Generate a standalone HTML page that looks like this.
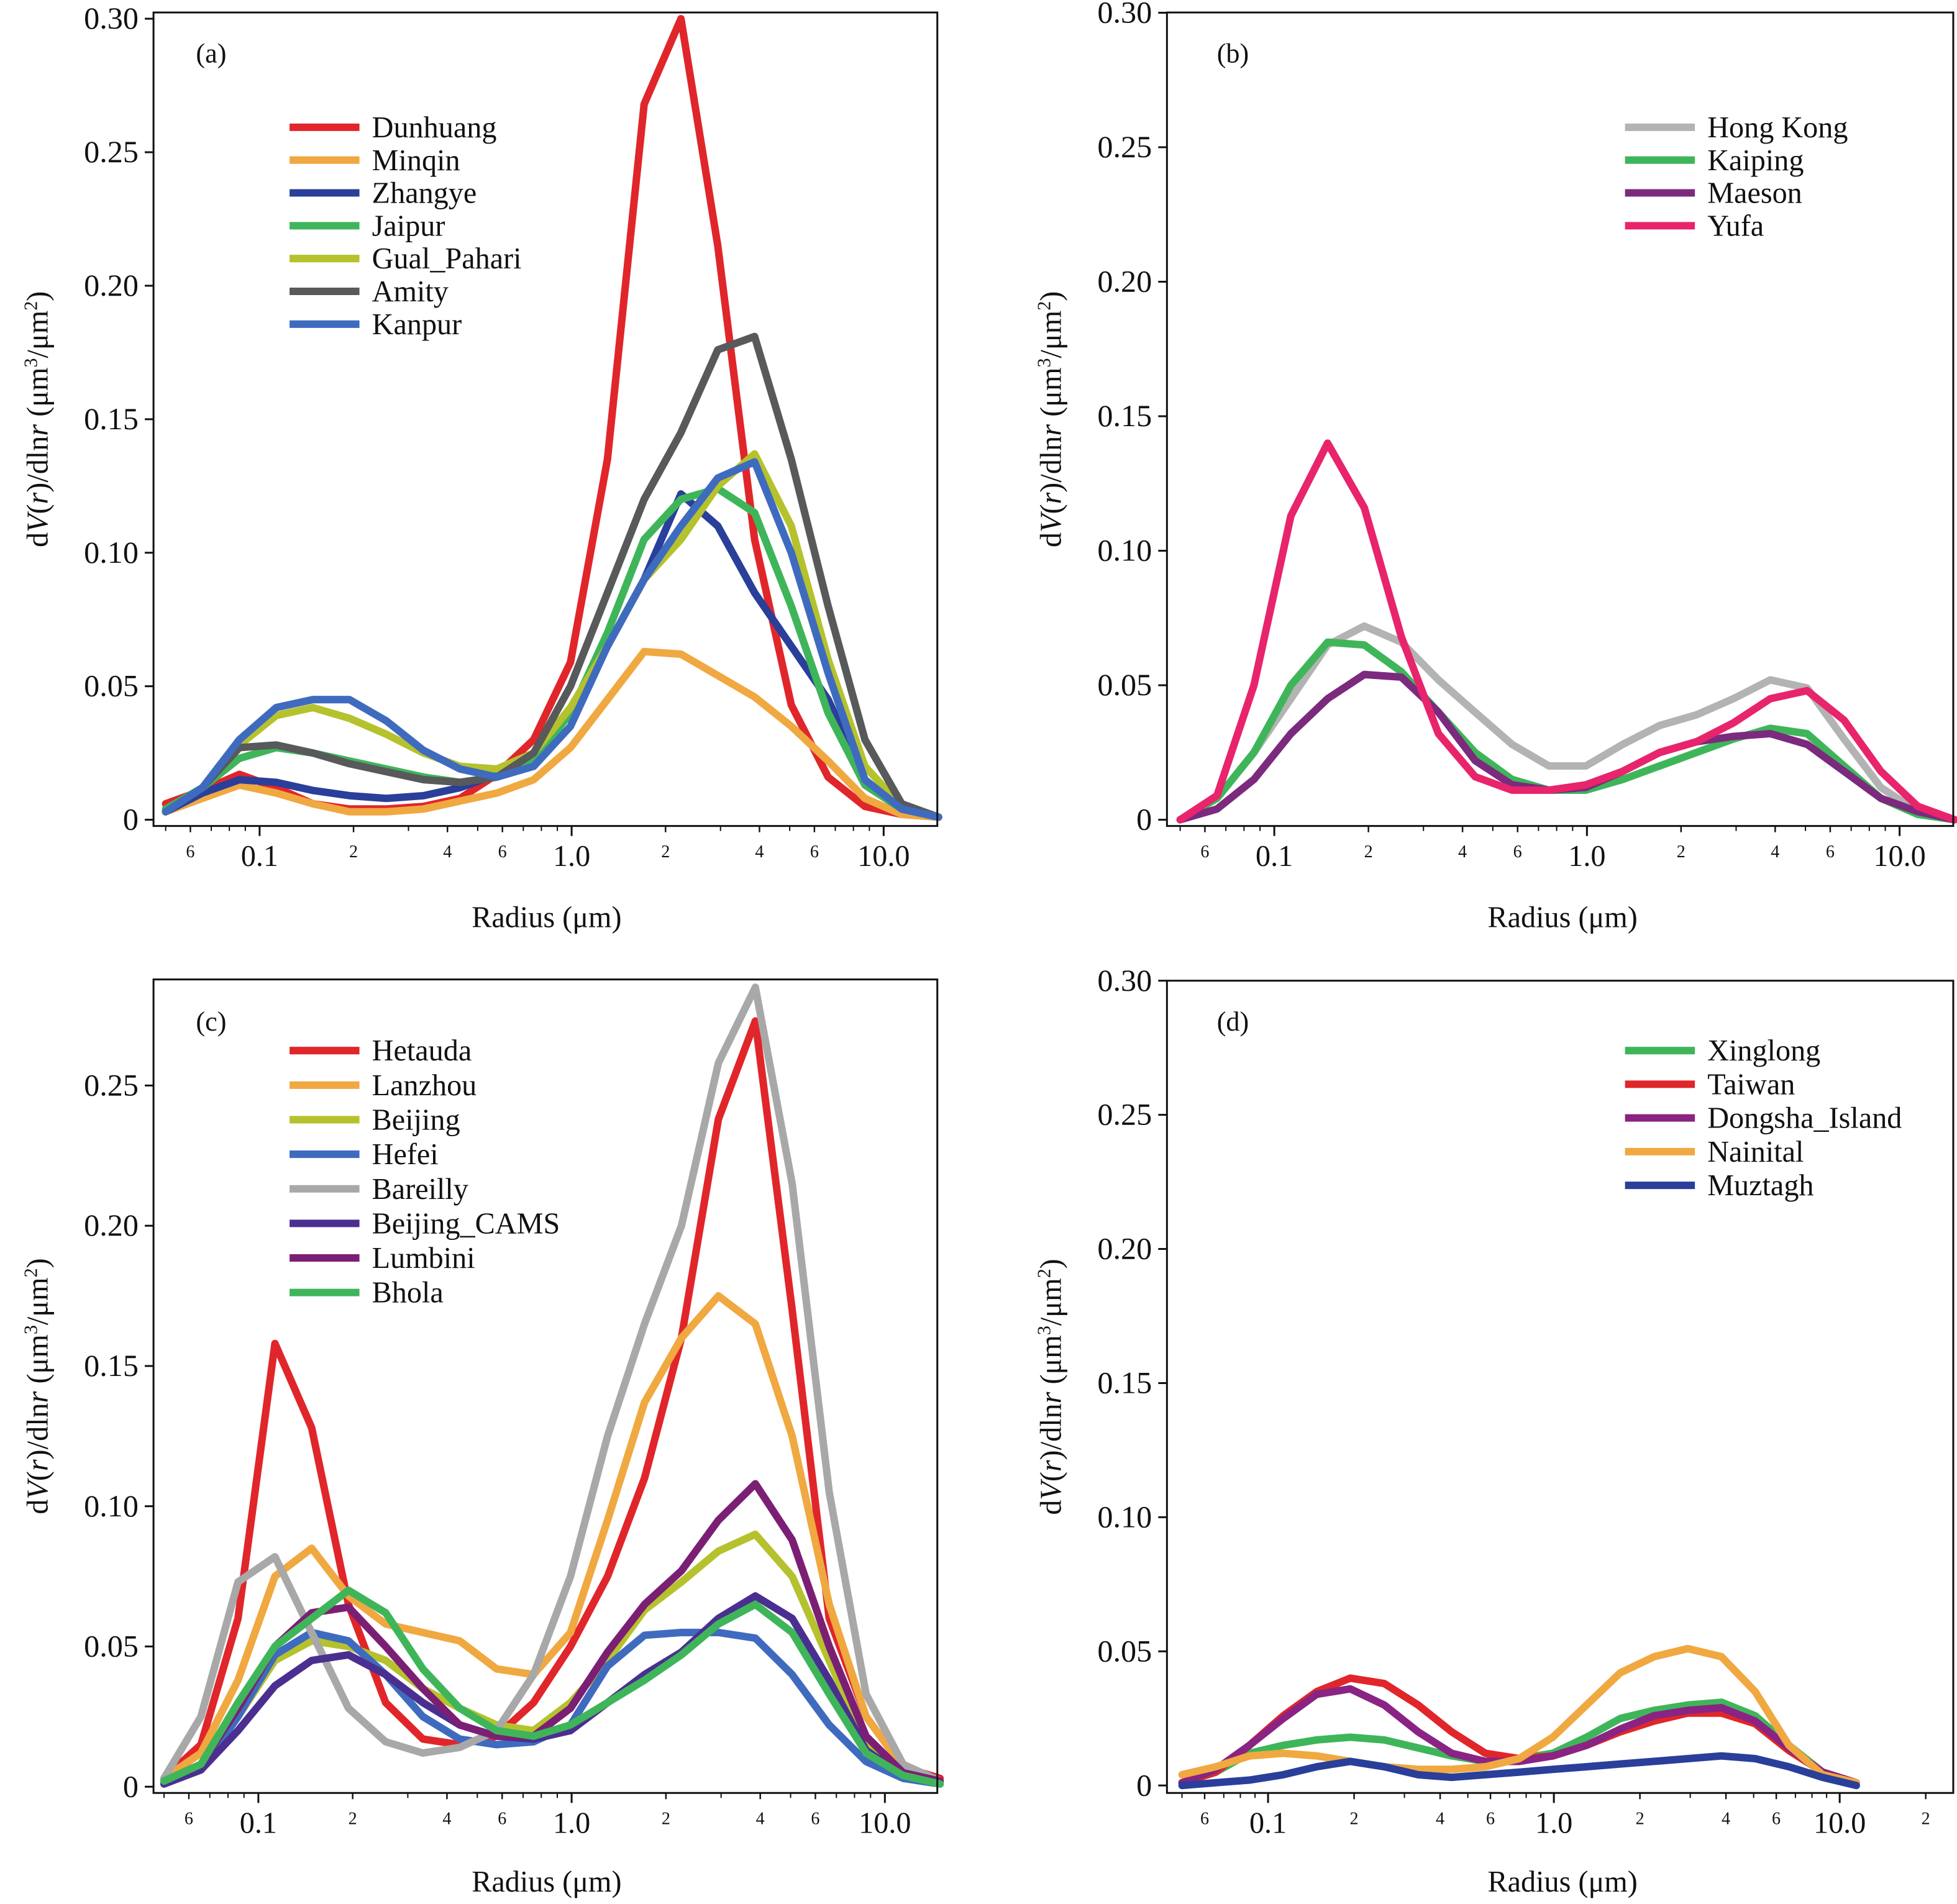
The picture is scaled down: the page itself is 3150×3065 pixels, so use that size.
<!DOCTYPE html>
<html><head><meta charset="utf-8"><style>
html,body{margin:0;padding:0;background:#fff;}
svg{display:block;}
text{font-family:"Liberation Serif",serif;fill:#111;}
</style></head><body>
<svg id="chart" width="3150" height="3065" viewBox="0 0 1568 1526" preserveAspectRatio="none" xmlns="http://www.w3.org/2000/svg"></svg>
<script>
const radii = [0.05,0.0656,0.0861,0.113,0.148,0.194,0.255,0.335,0.439,0.576,0.756,0.992,1.302,1.708,2.241,2.94,3.86,5.06,6.64,8.71,11.43,15.0];

const namesA = ["Dunhuang","Minqin","Zhangye","Jaipur","Gual_Pahari","Amity","Kanpur"];
const colorsA = ["#e0262a","#f0a840","#2a3f9a","#3fb55a","#b5c22d","#58595b","#3f6bbf"];
const dunhuang = [.006,.011,.017,.012,.006,.004,.004,.005,.008,.017,.030,.059,.135,.268,.300,.215,.105,.043,.016,.005,.002,.001];
const minqin = [.003,.008,.013,.010,.006,.003,.003,.004,.007,.010,.015,.027,.045,.063,.062,.054,.046,.035,.022,.008,.002,.001];
const zhangye = [.003,.010,.015,.014,.011,.009,.008,.009,.012,.017,.025,.040,.065,.090,.122,.110,.085,.065,.045,.015,.004,.001];
const jaipur = [.004,.012,.023,.027,.025,.022,.019,.016,.014,.016,.022,.040,.070,.105,.120,.124,.115,.080,.040,.013,.004,.001];
const gualPahari = [.003,.012,.028,.039,.042,.038,.032,.025,.020,.019,.025,.042,.065,.090,.105,.125,.137,.110,.060,.020,.005,.001];
const amity = [.003,.012,.027,.028,.025,.021,.018,.015,.014,.016,.025,.050,.085,.120,.145,.176,.181,.135,.080,.030,.006,.001];
const kanpur = [.003,.012,.030,.042,.045,.045,.037,.026,.019,.016,.020,.035,.065,.090,.110,.128,.134,.100,.055,.015,.004,.001];

const namesB = ["Hong Kong","Kaiping","Maeson","Yufa"];
const colorsB = ["#b3b3b3","#3fb55a","#7b2a7e","#e8246c"];
const hongKong = [.000,.008,.025,.045,.065,.072,.066,.052,.040,.028,.020,.020,.028,.035,.039,.045,.052,.049,.030,.012,.003,.000];
const kaiping = [.000,.008,.025,.050,.066,.065,.055,.040,.025,.015,.011,.011,.015,.020,.025,.030,.034,.032,.020,.008,.002,.000];
const maeson = [.000,.004,.015,.032,.045,.054,.053,.040,.022,.013,.011,.012,.018,.025,.029,.031,.032,.028,.018,.008,.003,.000];
const yufa = [.000,.009,.050,.113,.140,.116,.068,.032,.016,.011,.011,.013,.018,.025,.029,.036,.045,.048,.037,.018,.005,.000];

const namesC = ["Hetauda","Lanzhou","Beijing","Hefei","Bareilly","Beijing_CAMS","Lumbini","Bhola"];
const colorsC = ["#e0262a","#f0a840","#b5c22d","#3f6bbf","#a8a8a8","#4a2f90","#7b1f75","#3fb55a"];
const hetauda = [.003,.015,.060,.158,.128,.065,.030,.017,.015,.018,.030,.050,.075,.110,.160,.238,.273,.170,.060,.025,.007,.003];
const lanzhou = [.003,.012,.038,.075,.085,.068,.058,.055,.052,.042,.040,.055,.095,.137,.160,.175,.165,.125,.065,.025,.007,.002];
const beijing = [.002,.008,.025,.045,.052,.050,.045,.035,.028,.022,.020,.030,.045,.063,.073,.084,.090,.075,.045,.015,.005,.002];
const hefei = [.001,.006,.025,.047,.055,.052,.040,.025,.017,.015,.016,.022,.043,.054,.055,.055,.053,.040,.022,.009,.003,.001];
const bareilly = [.003,.025,.073,.082,.055,.028,.016,.012,.014,.020,.040,.075,.125,.165,.200,.258,.285,.215,.105,.033,.008,.002];
const beijingCams = [.001,.006,.020,.036,.045,.047,.040,.030,.022,.018,.017,.020,.030,.040,.048,.060,.068,.060,.038,.013,.004,.001];
const lumbini = [.002,.008,.028,.050,.062,.064,.050,.035,.022,.018,.018,.028,.048,.065,.077,.095,.108,.088,.050,.018,.005,.002];
const bhola = [.002,.008,.030,.050,.060,.070,.062,.042,.028,.020,.018,.022,.030,.038,.047,.058,.065,.055,.033,.012,.004,.001];

const namesD = ["Xinglong","Taiwan","Dongsha_Island","Nainital","Muztagh"];
const colorsD = ["#3fb55a","#e0262a","#8a2383","#f0a840","#2a3f9a"];
const xinglong = [.001,.005,.012,.015,.017,.018,.017,.014,.011,.009,.010,.012,.018,.025,.028,.030,.031,.026,.015,.005,.001];
const taiwan = [.001,.005,.015,.026,.035,.040,.038,.030,.020,.012,.010,.011,.015,.020,.024,.027,.027,.023,.013,.005,.001];
const dongsha = [.001,.006,.015,.025,.034,.036,.030,.020,.012,.009,.009,.011,.015,.021,.026,.028,.029,.024,.014,.005,.001];
const nainital = [.004,.007,.011,.012,.011,.009,.007,.006,.006,.007,.010,.018,.030,.042,.048,.051,.048,.035,.015,.004,.001];
const muztagh = [.000,.001,.002,.004,.007,.009,.007,.004,.003,.004,.005,.006,.007,.008,.009,.010,.011,.010,.007,.003,.000];

const yTicks = [0,0.05,0.10,0.15,0.20,0.25,0.30];
const yTickLabels = ["0","0.05","0.10","0.15","0.20","0.25","0.30"];
const xMajor = [0.1,1,10];
const xMajorLabels = ["0.1","1.0","10.0"];
const xMinor = [0.06,0.2,0.4,0.6,2,4,6,20];
const xMinorLabels = ["6","2","4","6","2","4","6","2"];

const NS = "http://www.w3.org/2000/svg";
const svg = document.getElementById("chart");
function mk(tag, attrs, parent){
  const e = document.createElementNS(NS, tag);
  for (const k in attrs) e.setAttribute(k, attrs[k]);
  (parent||svg).appendChild(e);
  return e;
}

const panels = [
  {id:"a", L:123,T:10,R:751,B:662, x01:208, dec:250, y0:657, per05:107, maxX:15.5,
   names:namesA, colors:colorsA, series:[dunhuang,minqin,zhangye,jaipur,gualPahari,amity,kanpur],
   legX:232, legY:102, legStep:26.3, labX:157, labY:50, ytop:0.30, xlabCx:438, xlabY:743, ytitleX:38},
  {id:"b", L:935,T:10,R:1565,B:662, x01:1021, dec:250.5, y0:657, per05:107.8, maxX:15.5,
   names:namesB, colors:colorsB, series:[hongKong,kaiping,maeson,yufa],
   legX:1302, legY:102, legStep:26.3, labX:975, labY:50, ytop:0.30, xlabCx:1252, xlabY:743, ytitleX:850},
  {id:"c", L:123,T:785,R:751,B:1437, x01:207, dec:251, y0:1432, per05:112.4, maxX:15.5,
   names:namesC, colors:colorsC, series:[hetauda,lanzhou,beijing,hefei,bareilly,beijingCams,lumbini,bhola],
   legX:232, legY:842, legStep:27.7, labX:157, labY:826, ytop:0.25, xlabCx:438, xlabY:1516, ytitleX:38},
  {id:"d", L:935,T:786,R:1565,B:1437, x01:1016, dec:229, y0:1431, per05:107.5, maxX:25,
   names:namesD, colors:colorsD, series:[xinglong,taiwan,dongsha,nainital,muztagh],
   legX:1302, legY:842, legStep:27, labX:975, labY:826, ytop:0.30, xlabCx:1252, xlabY:1516, ytitleX:850}
];

panels.forEach(p => {
  const g = mk("g", {});
  
  
  const xs = r => p.x01 + p.dec * Math.log10(r / 0.1);
  const ys = v => p.y0 - v / 0.05 * p.per05;

  p.series.forEach((vals, i) => {
    const pts = vals.map((v, k) => xs(radii[k]).toFixed(1) + "," + ys(v).toFixed(1)).join(" ");
    const pl = mk("polyline", {points: pts, fill: "none", stroke: p.colors[i], "stroke-width": 6, "stroke-linejoin": "round", "stroke-linecap": "round"}, g);
    
    
  });

  const fr = mk("rect", {x: p.L, y: p.T, width: p.R - p.L, height: p.B - p.T, fill: "none", stroke: "#111", "stroke-width": 1.5}, g);
  
  

  yTicks.forEach((t, i) => {
    if (t > p.ytop + 1e-9) return;
    const y = ys(t);
    mk("line", {x1: p.L - 7, x2: p.L, y1: y, y2: y, stroke: "#111", "stroke-width": 1.5}, g);
    const tx = mk("text", {x: p.L - 12, y: y + 8, "text-anchor": "end", "font-size": 25}, g);
    tx.textContent = yTickLabels[i];
    
    
  });
  xMajor.forEach((t, i) => {
    const x = xs(t);
    mk("line", {x1: x, x2: x, y1: p.B, y2: p.B + 8, stroke: "#111", "stroke-width": 1.5}, g);
    const tx = mk("text", {x: x, y: p.B + 32, "text-anchor": "middle", "font-size": 24}, g);
    tx.textContent = xMajorLabels[i];
    
    
  });
  xMinor.forEach((t, i) => {
    if (t > p.maxX) return;
    const x = xs(t);
    mk("line", {x1: x, x2: x, y1: p.B, y2: p.B + 5, stroke: "#111", "stroke-width": 1.2}, g);
    const tx = mk("text", {x: x, y: p.B + 25, "text-anchor": "middle", "font-size": 14}, g);
    tx.textContent = xMinorLabels[i];
    
    
  });
  for (let d = 0.01; d < 100; d *= 10) {
    for (let m = 1; m <= 9; m++) {
      const r = d * m;
      if (r < 0.05 || r > p.maxX) continue;
      const x = xs(r);
      if (x < p.L || x > p.R) continue;
      mk("line", {x1: x, x2: x, y1: p.B, y2: p.B + 4, stroke: "#111", "stroke-width": 1}, g);
    }
  }

  const xt = mk("text", {x: p.xlabCx, y: p.xlabY, "text-anchor": "middle", "font-size": 24}, g);
  xt.textContent = "Radius (μm)";
  
  
  const cy = (p.T + p.B) / 2;
  const yt = mk("text", {x: p.ytitleX, y: cy, "text-anchor": "middle", "font-size": 24, transform: "rotate(-90 " + p.ytitleX + " " + cy + ")"}, g);
  yt.innerHTML = 'd<tspan font-style="italic">V</tspan>(<tspan font-style="italic">r</tspan>)/dln<tspan font-style="italic">r</tspan> (μm<tspan baseline-shift="super" font-size="15">3</tspan>/μm<tspan baseline-shift="super" font-size="15">2</tspan>)';
  
  

  const pl = mk("text", {x: p.labX, y: p.labY, "font-size": 22}, g);
  pl.textContent = "(" + p.id + ")";
  
  

  const lg = mk("g", {}, g);
  
  
  p.names.forEach((n, i) => {
    const y = p.legY + i * p.legStep;
    const e = mk("g", {}, lg);
    
    
    mk("line", {x1: p.legX, x2: p.legX + 56, y1: y, y2: y, stroke: p.colors[i], "stroke-width": 6}, e);
    const t = mk("text", {x: p.legX + 66, y: y + 8, "font-size": 24}, e);
    t.textContent = n;
  });
});
</script>
</body></html>
